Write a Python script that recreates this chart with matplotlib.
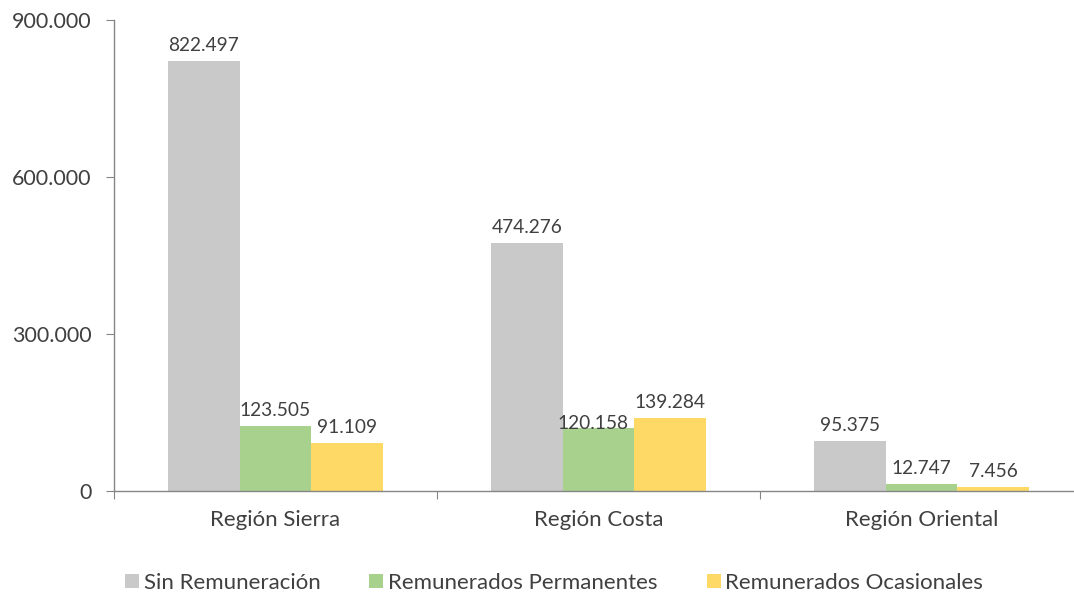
import matplotlib.pyplot as plt
from matplotlib.ticker import FuncFormatter
import numpy as np

# Data
regiones = ['Región Sierra', 'Región Costa', 'Región Oriental']
series = ['Sin Remuneración', 'Remunerados Permanentes', 'Remunerados Ocasionales']
sin_remuneracion = [822497, 474276, 95375]
permanentes = [123505, 120158, 12747]
ocasionales = [91109, 139284, 7456]
colores = ['#C9C9C9', '#A9D18E', '#FFD966']

plt.rcParams['font.family'] = ['Lato', 'DejaVu Sans']
texto = '#404040'
eje = '#868686'

fig = plt.figure(figsize=(10.74, 5.97), dpi=100)
ax = fig.add_axes([114 / 1074, 106 / 597, 969 / 1074, 471 / 597])

x = np.arange(len(regiones))
w = 0.2214
valores = [sin_remuneracion, permanentes, ocasionales]
for i, (nombre, vals, col) in enumerate(zip(series, valores, colores)):
    barras = ax.bar(x + (i - 1) * w, vals, w, color=col, label=nombre)
    for j, b in enumerate(barras):
        etiqueta = f"{vals[j]:,.0f}".replace(',', '.')
        dx, dy = 0, 5
        # Excel nudged this one down onto the bar
        if i == 1 and j == 1:
            dx, dy = -4, -3
        ax.annotate(etiqueta, (b.get_x() + b.get_width() / 2, b.get_height()),
                    xytext=(dx, dy), textcoords='offset points',
                    ha='center', va='bottom', fontsize=13.8, color=texto)

ax.set_xlim(-0.5, len(regiones) - 0.5)
ax.set_ylim(0, 900000)
ax.set_yticks([0, 300000, 600000, 900000])
ax.yaxis.set_major_formatter(FuncFormatter(lambda v, p: f"{v:,.0f}".replace(',', '.')))

ax.set_xticks(np.arange(-0.5, len(regiones), 1.0))
ax.set_xticklabels([])
ax.set_xticks(x, minor=True)
ax.set_xticklabels(regiones, minor=True)
ax.tick_params(axis='x', which='minor', length=0, pad=14, labelsize=16, labelcolor=texto)
ax.tick_params(axis='x', which='major', length=6, color=eje, direction='out')
ax.tick_params(axis='y', length=6, color=eje, pad=10, labelsize=15.5, labelcolor=texto)

for s in ['top', 'right']:
    ax.spines[s].set_visible(False)
for s in ['left', 'bottom']:
    ax.spines[s].set_color(eje)
    ax.spines[s].set_linewidth(1)

fig.legend(loc='center', bbox_to_anchor=(554 / 1074, 1 - 583 / 597), ncol=3,
           frameon=False, fontsize=16, labelcolor=texto, handlelength=0.63,
           handleheight=0.63, handletextpad=0.22, columnspacing=2.2)

fig.savefig('out.png', dpi=100)
